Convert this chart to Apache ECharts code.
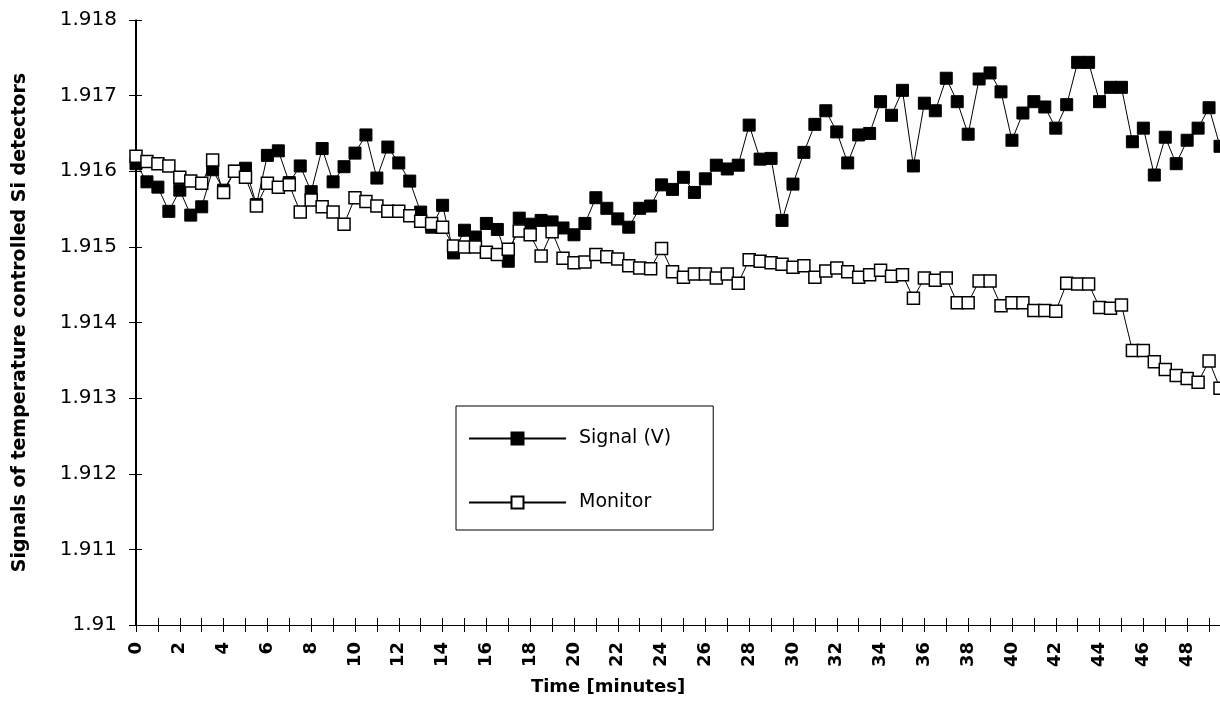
<!DOCTYPE html>
<html>
<head>
<meta charset="utf-8">
<script src="https://cdn.jsdelivr.net/npm/echarts@6/dist/echarts.min.js"></script>
<style>
  html, body { margin: 0; padding: 0; background: #fff; }
  #chart { width: 1220px; height: 711px; }
</style>
</head>
<body>
<div id="chart"></div>
<script>
// time of each reading, minutes
const times = [
  0, 0.5, 1, 1.5, 2, 2.5, 3, 3.5, 4, 4.5, 5, 5.5, 6, 6.5, 7, 7.5, 8, 8.5, 9, 9.5,
  10, 10.5, 11, 11.5, 12, 12.5, 13, 13.5, 14, 14.5, 15, 15.5, 16, 16.5, 17, 17.5, 18, 18.5, 19, 19.5,
  20, 20.5, 21, 21.5, 22, 22.5, 23, 23.5, 24, 24.5, 25, 25.5, 26, 26.5, 27, 27.5, 28, 28.5, 29, 29.5,
  30, 30.5, 31, 31.5, 32, 32.5, 33, 33.5, 34, 34.5, 35, 35.5, 36, 36.5, 37, 37.5, 38, 38.5, 39, 39.5,
  40, 40.5, 41, 41.5, 42, 42.5, 43, 43.5, 44, 44.5, 45, 45.5, 46, 46.5, 47, 47.5, 48, 48.5, 49, 49.5
];

const signalV = [
  1.9161, 1.91586, 1.91579, 1.91547, 1.91575, 1.91542, 1.91553, 1.91602, 1.91575, 1.916,
  1.91604, 1.91556, 1.91621, 1.91627, 1.91585, 1.91607, 1.91573, 1.9163, 1.91586, 1.91606,
  1.91624, 1.91648, 1.91591, 1.91632, 1.91611, 1.91587, 1.91546, 1.91526, 1.91555, 1.91492,
  1.91522, 1.91513, 1.91531, 1.91523, 1.91481, 1.91538, 1.9153, 1.91535, 1.91533, 1.91525,
  1.91516, 1.91531, 1.91565, 1.91551, 1.91537, 1.91526, 1.91551, 1.91554, 1.91582, 1.91576,
  1.91592, 1.91572, 1.9159, 1.91608, 1.91603, 1.91608, 1.91661, 1.91616, 1.91617, 1.91535,
  1.91583, 1.91625, 1.91662, 1.9168, 1.91652, 1.91611, 1.91648, 1.9165, 1.91692, 1.91674,
  1.91707, 1.91607, 1.9169, 1.9168, 1.91723, 1.91692, 1.91649, 1.91722, 1.9173, 1.91705,
  1.91641, 1.91677, 1.91692, 1.91685, 1.91657, 1.91688, 1.91744, 1.91744, 1.91692, 1.91711,
  1.91711, 1.91639, 1.91657, 1.91595, 1.91645, 1.9161, 1.91641, 1.91657, 1.91684, 1.91633
];

const monitor = [
  1.9162, 1.91613, 1.9161, 1.91607, 1.91592, 1.91587, 1.91584, 1.91615, 1.91572, 1.916,
  1.91592, 1.91554, 1.91584, 1.91579, 1.91582, 1.91546, 1.91562, 1.91553, 1.91546, 1.9153,
  1.91565, 1.9156, 1.91554, 1.91547, 1.91547, 1.91541, 1.91534, 1.91531, 1.91526, 1.91501,
  1.915, 1.915, 1.91493, 1.9149, 1.91497, 1.91521, 1.91516, 1.91488, 1.9152, 1.91485,
  1.91479, 1.9148, 1.9149, 1.91487, 1.91484, 1.91475, 1.91472, 1.91471, 1.91498, 1.91467,
  1.9146, 1.91464, 1.91464, 1.91459, 1.91464, 1.91452, 1.91483, 1.91481, 1.91479, 1.91477,
  1.91473, 1.91475, 1.9146, 1.91468, 1.91472, 1.91467, 1.9146, 1.91463, 1.91469, 1.91461,
  1.91463, 1.91432, 1.91459, 1.91456, 1.91459, 1.91426, 1.91426, 1.91455, 1.91455, 1.91422,
  1.91426, 1.91426, 1.91416, 1.91416, 1.91415, 1.91452, 1.91451, 1.91451, 1.9142, 1.91419,
  1.91423, 1.91363, 1.91363, 1.91348, 1.91338, 1.9133, 1.91326, 1.91321, 1.91349, 1.91313
];

const chart = echarts.init(document.getElementById('chart'));

const font = 'DejaVu Sans, sans-serif';
const axisLineStyle = { color: '#000', width: 1 };

// plot box: left 136, right edge past the canvas, top 20, bottom 625
const plotW = 1085;
const plotH = 605;

const xBase = {
    type: 'value',
    min: 0,
    max: 49.5,
    interval: 1,
    splitLine: { show: false },
    axisLine: { show: true, onZero: false, lineStyle: axisLineStyle },
    axisTick: { show: true, length: 7, lineStyle: axisLineStyle }
};
const yBase = {
    type: 'value',
    min: 1.91,
    max: 1.918,
    interval: 0.001,
    splitLine: { show: false },
    axisLine: { show: true, onZero: false, lineStyle: axisLineStyle },
    axisTick: { show: true, length: 7, lineStyle: axisLineStyle }
};

let options = {
    backgroundColor: '#fff',
    animation: false,
    grid: {
        left: 136,
        right: -5,
        top: 20,
        bottom: 86
    },
    legend: {
        orient: 'vertical',
        left: 456,
        top: 406,
        padding: [23, 42, 18, 12],
        itemGap: 45,
        itemWidth: 97,
        itemHeight: 15,
        borderColor: '#000',
        borderWidth: 1,
        textStyle: {
            fontFamily: font,
            fontSize: 19,
            lineHeight: 19,
            color: '#000',
            padding: [0, 0, 0, 8]
        },
        data: ['Signal (V)', 'Monitor']
    },
    xAxis: [
        Object.assign({}, xBase, {
            position: 'bottom',
            name: 'Time [minutes]',
            nameLocation: 'middle',
            nameGap: 53,
            nameTextStyle: {
                fontFamily: font,
                fontSize: 18,
                fontWeight: 'bold',
                color: '#000',
                padding: [0, 140, 0, 0]
            },
            axisLabel: {
                rotate: 90,
                margin: 17,
                fontFamily: font,
                fontSize: 18,
                fontWeight: 'bold',
                color: '#000',
                formatter: function (v) { return v % 2 === 0 ? String(v) : ''; }
            }
        }),
        // top axis pulled down onto the bottom one: upper half of the crossing ticks
        Object.assign({}, xBase, {
            position: 'top',
            offset: -plotH,
            axisLabel: { show: false }
        })
    ],
    yAxis: [
        Object.assign({}, yBase, {
            position: 'left',
            name: 'Signals of temperature controlled Si detectors',
            nameLocation: 'middle',
            nameGap: 106,
            nameTextStyle: {
                fontFamily: font,
                fontSize: 19,
                fontWeight: 'bold',
                color: '#000'
            },
            axisLabel: {
                margin: 19,
                fontFamily: font,
                fontSize: 20,
                color: '#000'
            }
        }),
        // right axis pulled onto the left one: inner half of the crossing ticks
        Object.assign({}, yBase, {
            position: 'right',
            offset: -plotW,
            axisLabel: { show: false }
        })
    ],
    series: [
        {
            name: 'Signal (V)',
            type: 'line',
            xAxisIndex: 0,
            yAxisIndex: 0,
            data: times.map((t, i) => [t, signalV[i]]),
            symbol: 'rect',
            symbolSize: 12,
            showAllSymbol: true,
            lineStyle: { color: '#000', width: 1 },
            itemStyle: { color: '#000', borderColor: '#000', borderWidth: 1 }
        },
        {
            name: 'Monitor',
            type: 'line',
            xAxisIndex: 0,
            yAxisIndex: 0,
            data: times.map((t, i) => [t, monitor[i]]),
            symbol: 'rect',
            symbolSize: 12,
            showAllSymbol: true,
            lineStyle: { color: '#000', width: 1 },
            itemStyle: { color: '#fff', borderColor: '#000', borderWidth: 1.5 }
        },
        {
            // empty series tied to the tick-only axes
            type: 'line',
            xAxisIndex: 1,
            yAxisIndex: 1,
            data: [],
            silent: true
        }
    ]
};

chart.setOption(options);
</script>
</body>
</html>
